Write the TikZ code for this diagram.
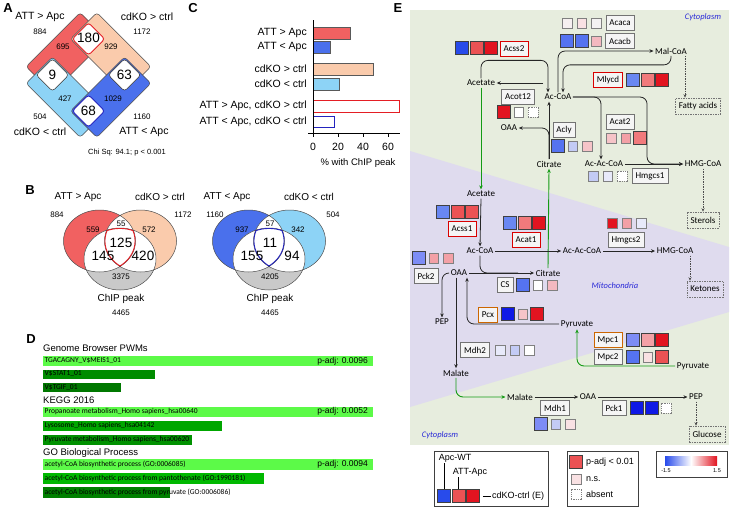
\documentclass[tikz,border=0pt]{standalone}
\usepackage{fontspec}
\setmainfont{Liberation Sans}
\newfontfamily\pathfont{Carlito}
\usetikzlibrary{arrows.meta}

% set colours (panels A-C)
\definecolor{upRed}{RGB}{241,97,97}
\definecolor{upPeach}{RGB}{250,203,172}
\definecolor{dnSky}{RGB}{141,211,246}
\definecolor{dnBlue}{RGB}{74,112,236}
\definecolor{chipGray}{RGB}{201,201,201}
\definecolor{ovRed}{RGB}{228,30,36}
\definecolor{ovBlue}{RGB}{35,35,190}
% enrichment bars (panel D)
\definecolor{hitGreen}{RGB}{92,250,72}
% pathway map (panel E)
\definecolor{cytoBg}{RGB}{231,237,222}
\definecolor{mitoBg}{RGB}{223,219,238}
\definecolor{compText}{RGB}{40,40,215}
\definecolor{moveGreen}{RGB}{20,155,20}
\definecolor{bl0}{RGB}{15,25,230}
\definecolor{bl1}{RGB}{40,75,235}
\definecolor{bl3}{RGB}{85,115,240}
\definecolor{bl4}{RGB}{105,135,242}
\definecolor{bl5}{RGB}{125,140,245}
\definecolor{bl6}{RGB}{195,203,245}
\definecolor{bl7}{RGB}{232,234,250}
\definecolor{rd1}{RGB}{226,20,32}
\definecolor{rd2}{RGB}{236,82,84}
\definecolor{rd3}{RGB}{241,122,124}
\definecolor{pink1}{RGB}{249,225,227}
\definecolor{pink2}{RGB}{246,196,200}
\definecolor{pink3}{RGB}{244,185,192}
\definecolor{pink4}{RGB}{243,160,166}
\definecolor{pale1}{RGB}{246,240,240}
\definecolor{pale2}{RGB}{244,242,242}

\tikzset{
  panel/.style={font=\bfseries\fontsize{13}{13}\selectfont, inner sep=0pt},
  lab/.style={font=\fontsize{10.5}{11}\selectfont, inner sep=1pt},
  num/.style={font=\fontsize{8}{9}\selectfont, inner sep=1pt},
  bignum/.style={font=\fontsize{13.5}{14}\selectfont, inner sep=1pt},
  vennline/.style={draw=black!70, line width=0.5pt},
  barline/.style={draw=black!65, line width=0.6pt},
  dhead/.style={font=\fontsize{9.5}{10}\selectfont, inner sep=0pt, anchor=west},
  dtext/.style={font=\pathfont\fontsize{7.5}{8}\selectfont, inner sep=0pt, anchor=west},
  dpadj/.style={font=\fontsize{8.5}{9}\selectfont, inner sep=0pt, anchor=east},
  met/.style={font=\pathfont\fontsize{9}{10}\selectfont, inner sep=1.5pt},
  enz/.style={draw=black!55, fill=black!4, line width=0.6pt,
              font=\pathfont\fontsize{9}{10}\selectfont,
              inner xsep=3.5pt, inner ysep=0pt, minimum height=15pt},
  enzhit/.style={enz, draw=red!85!black},
  enzmpc/.style={enz, draw=orange!80!black},
  sink/.style={draw=black!55, dash pattern=on 1.5pt off 1pt, line width=0.6pt,
               font=\pathfont\fontsize{9}{10}\selectfont,
               inner xsep=3.5pt, inner ysep=0pt, minimum height=16pt},
  sig/.style={draw=black!75, line width=0.5pt, minimum size=13pt, inner sep=0pt},
  ns/.style={draw=black!50, line width=0.4pt, minimum size=9.5pt, inner sep=0pt},
  nosq/.style={ns, dash pattern=on 1.2pt off 1pt},
  flux/.style={-{Stealth[length=4pt,width=3.5pt]}, line width=0.8pt, draw=black!85,
               rounded corners=7pt},
  fluxplain/.style={line width=0.8pt, draw=black!85, rounded corners=7pt},
  carrier/.style={-{Stealth[length=4pt,width=3.5pt]}, line width=0.9pt, draw=moveGreen,
                  rounded corners=7pt},
  fate/.style={-{Stealth[length=3.5pt,width=3pt]}, line width=0.6pt, draw=black!70,
               dash pattern=on 1.5pt off 1pt},
  comp/.style={font=\pathfont\itshape\fontsize{8.5}{9}\selectfont, text=compText},
  legbox/.style={draw=black!75, line width=0.8pt},
  legtext/.style={font=\fontsize{9}{10}\selectfont, inner sep=1pt}
}

\begin{document}
\begin{tikzpicture}[x=1pt, y=-1pt]
\useasboundingbox (0,0) rectangle (730,507);
\fill[white] (0,0) rectangle (730,507);

% ---------------- A: overlap of up/down genes
\node[panel] (letA) at (8,8) {A};
\begin{scope}[shift={(88.5,75)}, x={(0.7071pt,0.7071pt)}, y={(-0.7071pt,0.7071pt)},
              rounded corners=3pt, line width=0.5pt]
    \filldraw[fill=upRed, draw=black!70] (-38.25,12.75) -- (38.25,12.75) -- (38.25,50) -- (-38.25,50) -- cycle;
    \filldraw[fill=upPeach, draw=black!70] (12.75,-38.25) -- (50,-38.25) -- (50,38.25) -- (12.75,38.25) -- cycle;
    \filldraw[fill=dnSky, draw=black!70] (-50,-38.25) -- (-12.75,-38.25) -- (-12.75,38.25) -- (-50,38.25) -- cycle;
    \filldraw[fill=dnBlue, draw=black!70] (-38.25,-50) -- (38.25,-50) -- (38.25,-12.75) -- (-38.25,-12.75) -- cycle;
    \filldraw[fill=white, draw=ovRed, line width=0.9pt] (14,14) -- (37,14) -- (37,37) -- (14,37) -- cycle;
    \filldraw[fill=white, draw=black!80] (-37,14) -- (-14,14) -- (-14,37) -- (-37,37) -- cycle;
    \filldraw[fill=white, draw=black!80] (14,-37) -- (37,-37) -- (37,-14) -- (14,-14) -- cycle;
    \filldraw[fill=white, draw=ovBlue, line width=0.9pt] (-37,-37) -- (-14,-37) -- (-14,-14) -- (-37,-14) -- cycle;
\end{scope}
\node[lab] (aUpAtt) at (40,17) {ATT > Apc};
\node[lab] (aUpKo) at (147,17) {cdKO > ctrl};
\node[num] (aN1) at (40,32) {884};
\node[num] (aN2) at (142,32) {1172};
\node[num] (aN3) at (63,47) {695};
\node[num] (aN4) at (111,47) {929};
\node[bignum] (aBoth) at (88.5,38) {180};
\node[bignum] (aMix1) at (52.5,75) {9};
\node[bignum] (aMix2) at (124.5,75) {63};
\node[bignum] (aDown) at (88.5,111) {68};
\node[num] (aN5) at (65,99) {427};
\node[num] (aN6) at (113,99) {1029};
\node[num] (aN7) at (40,117) {504};
\node[num] (aN8) at (142,117) {1160};
\node[lab] (aDnKo) at (40,132) {cdKO < ctrl};
\node[lab] (aDnAtt) at (144,132) {ATT < Apc};
\node[num, font=\fontsize{7.5}{8}\selectfont] (aChi) at (127,153) {Chi Sq: 94.1; p < 0.001};

% ---------------- B: Venn with ChIP peaks
\node[panel] (letB) at (30,190) {B};
\begin{scope}
    \fill[upRed] (99.5,241) ellipse [x radius=36, y radius=31];
    \fill[upPeach] (140.5,241) ellipse [x radius=36, y radius=31];
    \fill[chipGray] (120,259) ellipse [x radius=36, y radius=31];
    \begin{scope}
        \clip (99.5,241) ellipse [x radius=36, y radius=31];
        \fill[white] (140.5,241) ellipse [x radius=36, y radius=31];
        \fill[white] (120,259) ellipse [x radius=36, y radius=31];
    \end{scope}
    \begin{scope}
        \clip (140.5,241) ellipse [x radius=36, y radius=31];
        \fill[white] (120,259) ellipse [x radius=36, y radius=31];
    \end{scope}
    \draw[vennline] (99.5,241) ellipse [x radius=36, y radius=31]
                    (140.5,241) ellipse [x radius=36, y radius=31]
                    (120,259) ellipse [x radius=36, y radius=31];
    \begin{scope}
        \clip (99.5,241) ellipse [x radius=36, y radius=31];
        \clip (140.5,241) ellipse [x radius=36, y radius=31];
        \clip (120,259) ellipse [x radius=36, y radius=31];
        \draw[ovRed, line width=1.8pt] (99.5,241) ellipse [x radius=36, y radius=31]
                    (140.5,241) ellipse [x radius=36, y radius=31]
                    (120,259) ellipse [x radius=36, y radius=31];
    \end{scope}
    \node[lab, font=\fontsize{10}{11}\selectfont] (bUpAtt) at (78,197) {ATT > Apc};
    \node[lab, font=\fontsize{10}{11}\selectfont] (bUpKo) at (160,197) {cdKO > ctrl};
    \node[num] (bU1) at (57,215) {884};
    \node[num] (bU2) at (183,215) {1172};
    \node[num] (bU3) at (93,230) {559};
    \node[num] (bU4) at (121,224) {55};
    \node[num] (bU5) at (149,230) {572};
    \node[bignum] (bU6) at (121,243) {125};
    \node[bignum] (bU7) at (103,256) {145};
    \node[bignum] (bU8) at (143,256) {420};
    \node[num] (bU9) at (121,277) {3375};
    \node[lab, font=\fontsize{10}{11}\selectfont] (bUchip) at (121,299) {ChIP peak};
    \node[num] (bU10) at (121,313) {4465};
\end{scope}
\begin{scope}[shift={(149,0)}]
    \fill[dnBlue] (99.5,241) ellipse [x radius=36, y radius=31];
    \fill[dnSky] (140.5,241) ellipse [x radius=36, y radius=31];
    \fill[chipGray] (120,259) ellipse [x radius=36, y radius=31];
    \begin{scope}
        \clip (99.5,241) ellipse [x radius=36, y radius=31];
        \fill[white] (140.5,241) ellipse [x radius=36, y radius=31];
        \fill[white] (120,259) ellipse [x radius=36, y radius=31];
    \end{scope}
    \begin{scope}
        \clip (140.5,241) ellipse [x radius=36, y radius=31];
        \fill[white] (120,259) ellipse [x radius=36, y radius=31];
    \end{scope}
    \draw[vennline] (99.5,241) ellipse [x radius=36, y radius=31]
                    (140.5,241) ellipse [x radius=36, y radius=31]
                    (120,259) ellipse [x radius=36, y radius=31];
    \begin{scope}
        \clip (99.5,241) ellipse [x radius=36, y radius=31];
        \clip (140.5,241) ellipse [x radius=36, y radius=31];
        \clip (120,259) ellipse [x radius=36, y radius=31];
        \draw[ovBlue, line width=1.8pt] (99.5,241) ellipse [x radius=36, y radius=31]
                    (140.5,241) ellipse [x radius=36, y radius=31]
                    (120,259) ellipse [x radius=36, y radius=31];
    \end{scope}
    \node[lab, font=\fontsize{10}{11}\selectfont] (bDnAtt) at (78,197) {ATT < Apc};
    \node[lab, font=\fontsize{10}{11}\selectfont] (bDnKo) at (160,197) {cdKO < ctrl};
    \node[num] (bD1) at (66,215) {1160};
    \node[num] (bD2) at (184,215) {504};
    \node[num] (bD3) at (93,230) {937};
    \node[num] (bD4) at (121,224) {57};
    \node[num] (bD5) at (149,230) {342};
    \node[bignum] (bD6) at (121,243) {11};
    \node[bignum] (bD7) at (103,256) {155};
    \node[bignum] (bD8) at (143,256) {94};
    \node[num] (bD9) at (121,277) {4205};
    \node[lab, font=\fontsize{10}{11}\selectfont] (bDchip) at (121,299) {ChIP peak};
    \node[num] (bD10) at (121,313) {4465};
\end{scope}

% ---------------- C: fraction with ChIP peak
\node[panel] (letC) at (193,8) {C};
\filldraw[barline, fill=upRed] (313,27) rectangle (350.5,39);
\filldraw[barline, fill=dnBlue] (313,41.5) rectangle (330.5,53);
\filldraw[barline, fill=upPeach] (313,63) rectangle (373,75);
\filldraw[barline, fill=dnSky] (313,78.5) rectangle (339,90);
\draw[ovRed, line width=0.9pt] (313,100.5) rectangle (399,112);
\draw[ovBlue, line width=0.9pt] (313,116) rectangle (334,127.5);
\draw[line width=0.6pt] (313,20) -- (313,133);
\draw[line width=0.6pt] (308,133) -- (400,133);
\foreach \v in {0,20,40,60} {
    \draw[line width=0.6pt] ({313+1.25*\v},133) -- ({313+1.25*\v},137);
    \node[lab] (tick\v) at ({313+1.25*\v},147) {\v};
}
\node[lab, anchor=east] (cL1) at (308,33) {ATT > Apc};
\node[lab, anchor=east] (cL2) at (308,47) {ATT < Apc};
\node[lab, anchor=east] (cL3) at (308,69) {cdKO > ctrl};
\node[lab, anchor=east] (cL4) at (308,84) {cdKO < ctrl};
\node[lab, anchor=east] (cL5) at (308,106) {ATT > Apc, cdKO > ctrl};
\node[lab, anchor=east] (cL6) at (308,122) {ATT < Apc, cdKO < ctrl};
\node[lab, font=\fontsize{9.5}{10}\selectfont] (cAxis) at (358,163) {\% with ChIP peak};

% ---------------- D: enrichment
\node[panel] (letD) at (31,339) {D};
\node[dhead] (dH1) at (43,348) {Genome Browser PWMs};
\fill[hitGreen] (43,356) rectangle (373,366);
\fill[green!55!black] (43,369.5) rectangle (155,378.5);
\fill[green!47!black] (43,383) rectangle (121,392);
\node[dtext] (dT1) at (44.5,361) {TGACAGNY\_V\$MEIS1\_01};
\node[dtext] (dT2) at (44.5,374) {V\$STAT1\_01};
\node[dtext] (dT3) at (44.5,387.5) {V\$TGIF\_01};
\node[dpadj] (dP1) at (368,361) {p-adj: 0.0096};
\node[dhead] (dH2) at (43,400) {KEGG 2016};
\fill[hitGreen] (43,406.5) rectangle (373,417);
\fill[green!65!black] (43,420.5) rectangle (222,431);
\fill[green!57!black] (43,434.5) rectangle (192,445);
\node[dtext] (dT4) at (44.5,411.7) {Propanoate metabolism\_Homo sapiens\_hsa00640};
\node[dtext] (dT5) at (44.5,425.7) {Lysosome\_Homo sapiens\_hsa04142};
\node[dtext] (dT6) at (44.5,439.7) {Pyruvate metabolism\_Homo sapiens\_hsa00620};
\node[dpadj] (dP2) at (368,411.7) {p-adj: 0.0052};
\node[dhead] (dH3) at (43,453) {GO Biological Process};
\fill[hitGreen] (43,459) rectangle (373,469.5);
\fill[green!72!black] (43,473) rectangle (264,483.5);
\fill[green!50!black] (43,487) rectangle (170,497.5);
\node[dtext] (dT7) at (44.5,464.2) {acetyl-CoA biosynthetic process (GO:0006085)};
\node[dtext] (dT8) at (44.5,478.2) {acetyl-CoA biosynthetic process from pantothenate (GO:1990181)};
\node[dtext] (dT9) at (44.5,492.2) {acetyl-CoA biosynthetic process from pyruvate (GO:0006086)};
\node[dpadj] (dP3) at (368,464.2) {p-adj: 0.0094};

% ---------------- E: pathway map
\node[panel] (letE) at (398,8) {E};
\fill[cytoBg] (410,10) rectangle (729,445);
\fill[mitoBg] (410,151) -- (729,247) -- (729,312) -- (410,407) -- cycle;
\node[comp] (cytoTop) at (703,17) {Cytoplasm};
\node[comp] (mitoLab) at (615,286) {Mitochondria};
\node[comp] (cytoBot) at (440,435) {Cytoplasm};

% metabolites
\node[met] (acetC) at (481,83) {Acetate};
\node[met] (acoaC) at (558,97) {Ac-CoA};
\node[met] (malcoa) at (671,51) {Mal-CoA};
\node[met] (oaaC) at (509,128) {OAA};
\node[met] (citC) at (549,164) {Citrate};
\node[met] (aacoaC) at (604,164) {Ac-Ac-CoA};
\node[met] (hmgC) at (703,164) {HMG-CoA};
\node[met] (acetM) at (481,194) {Acetate};
\node[met] (acoaM) at (480,251) {Ac-CoA};
\node[met] (aacoaM) at (582,251) {Ac-Ac-CoA};
\node[met] (hmgM) at (675,251) {HMG-CoA};
\node[met] (citM) at (548,273) {Citrate};
\node[met] (oaaM) at (459,273) {OAA};
\node[met] (pepM) at (442,322) {PEP};
\node[met] (pyrM) at (577,324) {Pyruvate};
\node[met] (malM) at (456,373) {Malate};
\node[met] (pyrC) at (693,366) {Pyruvate};
\node[met] (malC) at (520,397) {Malate};
\node[met] (oaaCb) at (588,397) {OAA};
\node[met] (pepC) at (696,397) {PEP};

% end products
\node[sink] (fatty) at (698,106) {Fatty acids};
\node[sink] (sterols) at (703,220) {Sterols};
\node[sink] (ketones) at (705,289) {Ketones};
\node[sink] (glucose) at (707,434) {Glucose};

% enzymes
\node[enz] (acaca) at (620,23) {Acaca};
\node[enz] (acacb) at (620,41) {Acacb};
\node[enzhit] (acss2) at (514,49) {Acss2};
\node[enzhit] (mlycd) at (608,80) {Mlycd};
\node[enz] (acot12) at (518,97) {Acot12};
\node[enz] (acly) at (564,130) {Acly};
\node[enz] (acat2) at (620,122) {Acat2};
\node[enz] (hmgcs1) at (650,176) {Hmgcs1};
\node[enzhit] (acss1) at (462,229) {Acss1};
\node[enzhit] (acat1) at (526,240) {Acat1};
\node[enz] (hmgcs2) at (626,240) {Hmgcs2};
\node[enz] (cs) at (505,285) {CS};
\node[enz] (pck2) at (426,276) {Pck2};
\node[enzmpc] (pcx) at (488,315) {Pcx};
\node[enzmpc] (mpc1) at (608,340) {Mpc1};
\node[enz] (mpc2) at (608,357) {Mpc2};
\node[enz] (mdh2) at (475,350) {Mdh2};
\node[enz] (mdh1) at (555,408) {Mdh1};
\node[enz] (pck1) at (614,408) {Pck1};

% expression squares: Apc-WT, ATT-Apc, cdKO-ctrl
\foreach \k/\st/\c in {0/ns/pale1,1/ns/pink1,2/ns/pale2}
    \node[\st, fill=\c] (acacaSq\k) at ({567+14.5*\k},23) {};
\foreach \k/\st/\c in {0/sig/bl3,1/sig/bl3,2/ns/pink3}
    \node[\st, fill=\c] (acacbSq\k) at ({567+14.5*\k},41) {};
\foreach \k/\st/\c in {0/sig/bl1,1/sig/rd2,2/sig/rd1}
    \node[\st, fill=\c] (acss2Sq\k) at ({462+14.5*\k},48) {};
\foreach \k/\st/\c in {0/sig/bl4,1/sig/rd3,2/sig/rd1}
    \node[\st, fill=\c] (mlycdSq\k) at ({633+14.5*\k},80) {};
\foreach \k/\st/\c in {0/sig/rd1,1/ns/white,2/nosq/white}
    \node[\st, fill=\c] (acot12Sq\k) at ({504+14.5*\k},112) {};
\foreach \k/\st/\c in {0/sig/bl3,1/ns/bl6,2/ns/pink2}
    \node[\st, fill=\c] (aclySq\k) at ({558+14.5*\k},146) {};
\foreach \k/\st/\c in {0/ns/pink2,1/ns/pink4,2/sig/rd3}
    \node[\st, fill=\c] (acat2Sq\k) at ({611+14.5*\k},138) {};
\foreach \k/\st/\c in {0/ns/bl6,1/ns/bl7,2/nosq/white}
    \node[\st, fill=\c] (hmgcs1Sq\k) at ({593+14.5*\k},176) {};
\foreach \k/\st/\c in {0/sig/bl4,1/sig/rd2,2/sig/rd2}
    \node[\st, fill=\c] (acss1Sq\k) at ({443+14.5*\k},212) {};
\foreach \k/\st/\c in {0/sig/bl4,1/sig/rd3,2/sig/rd1}
    \node[\st, fill=\c] (acat1Sq\k) at ({510+14.5*\k},223) {};
\foreach \k/\st/\c in {0/ns/rd1,1/ns/pink4,2/ns/bl7}
    \node[\st, fill=\c] (hmgcs2Sq\k) at ({612+14.5*\k},223) {};
\foreach \k/\st/\c in {0/sig/bl3,1/ns/white,2/ns/pink3}
    \node[\st, fill=\c] (csSq\k) at ({523+14.5*\k},285) {};
\foreach \k/\st/\c in {0/sig/bl5,1/ns/pink4,2/ns/pink4}
    \node[\st, fill=\c] (pck2Sq\k) at ({419+14.5*\k},258) {};
\foreach \k/\st/\c in {0/sig/bl0,1/ns/pink2,2/sig/rd1}
    \node[\st, fill=\c] (pcxSq\k) at ({508+14.5*\k},314) {};
\foreach \k/\st/\c in {0/sig/bl5,1/sig/pink4,2/sig/rd1}
    \node[\st, fill=\c] (mpc1Sq\k) at ({633+14.5*\k},340) {};
\foreach \k/\st/\c in {0/sig/bl3,1/ns/pink1,2/sig/rd2}
    \node[\st, fill=\c] (mpc2Sq\k) at ({633+14.5*\k},357) {};
\foreach \k/\st/\c in {0/ns/bl7,1/ns/bl6,2/ns/white}
    \node[\st, fill=\c] (mdh2Sq\k) at ({500+14.5*\k},350) {};
\foreach \k/\st/\c in {0/sig/bl5,1/ns/bl6,2/ns/pink1}
    \node[\st, fill=\c] (mdh1Sq\k) at ({541+14.5*\k},424) {};
\foreach \k/\st/\c in {0/sig/bl0,1/sig/bl0,2/nosq/white}
    \node[\st, fill=\c] (pck1Sq\k) at ({637+14.5*\k},408) {};

% reactions, cytoplasm
\draw[flux] (acoaC.west |- acetC.east) -- (acetC.east);
\draw[flux] (acetC.north) -- ++(0,-18) -| ([xshift=-10pt]acoaC.north);
\draw[flux] (acoaC.north) |- (malcoa.west);
\draw[flux] (malcoa.south) -- ++(0,9) -| ([xshift=5pt]acoaC.north);
\draw[flux] (citC.north) -- (citC.north |- acoaC.south);
\draw[flux] (citC.north) |- (oaaC.east);
\draw[flux] (acoaC.east) -| ([xshift=-3pt]aacoaC.north);
\draw[flux] (acoaC.east) -| ([xshift=-36pt]hmgC.west) -- (hmgC.west);
\draw[flux] (aacoaC.east) -- (hmgC.west);
\coordinate (faStart) at ([xshift=14pt]malcoa.south);
\draw[fate] (faStart) -- (faStart |- fatty.north);
\draw[fate] (hmgC.south) -- (sterols.north);

% reactions, mitochondria
\draw[carrier] (acetC.south) -- (acetM.north);
\draw[carrier] (citM.north) -- (citC.south);
\draw[flux] (acetM.south) -- (acoaM.north);
\draw[flux] (acoaM.east) -- (aacoaM.west);
\draw[flux] (aacoaM.east) -- (hmgM.west);
\coordinate (ktStart) at ([xshift=15pt]hmgM.south);
\draw[fate] (ktStart) -- (ktStart |- ketones.north);
\draw[flux] (oaaM.east) -- (citM.west);
\draw[fluxplain] (acoaM.south) |- ([xshift=-16pt]citM.west);
\draw[flux] (oaaM.west) -| (pepM.north);
\draw[flux] (oaaM.south -| malM.north) -- (malM.north);
\coordinate (pcxEnd) at ([xshift=8pt]oaaM.south);
\draw[flux] (pyrM.west) -| (pcxEnd);
\draw[carrier] (pyrC.west) -| (pyrM.south);
\draw[carrier] (malM.south) |- (malC.west);
\draw[flux] (malC.east) -- (oaaCb.west);
\draw[flux] (oaaCb.east) -- (pepC.west);
\draw[fate] (pepC.south) -- (pepC.south |- glucose.north);

% legend
\draw[legbox] (434,451) rectangle (548,506);
\node[legtext] (legWt) at (455,458) {Apc-WT};
\node[legtext] (legAtt) at (470,472) {ATT-Apc};
\foreach \k/\st/\c in {0/sig/bl1,1/sig/rd2,2/sig/rd1}
    \node[\st, fill=\c] (legSq\k) at ({444+14.5*\k},496) {};
\node[legtext, anchor=west] (legKo) at (491,496) {cdKO-ctrl (E)};
\draw[line width=0.7pt] (legSq0.north) -- (legSq0.north |- legWt.south);
\draw[line width=0.7pt] (legSq1.north) -- (legSq1.north |- legAtt.south);
\draw[line width=0.7pt] ([xshift=3pt]legSq2.east) -- (legKo.west);

\draw[legbox] (567,451) rectangle (638,506);
\node[sig, fill=rd2] (keySig) at (576,462) {};
\node[ns, fill=pink1] (keyNs) at (576,479) {};
\node[nosq, fill=white] (keyNo) at (576,494) {};
\node[legtext, anchor=west] (keySigT) at (585,462) {p-adj < 0.01};
\node[legtext, anchor=west] (keyNsT) at (585,479) {n.s.};
\node[legtext, anchor=west] (keyNoT) at (585,494) {absent};

\draw[legbox] (656,451) rectangle (727,477);
\shade[left color=bl1, right color=rd1, middle color=white] (665,456) rectangle (717,465);
\node[font=\fontsize{5.5}{6}\selectfont, inner sep=0pt] (scaleLo) at (666,471) {-1.5};
\node[font=\fontsize{5.5}{6}\selectfont, inner sep=0pt] (scaleHi) at (717,471) {1.5};
\end{tikzpicture}
\end{document}
